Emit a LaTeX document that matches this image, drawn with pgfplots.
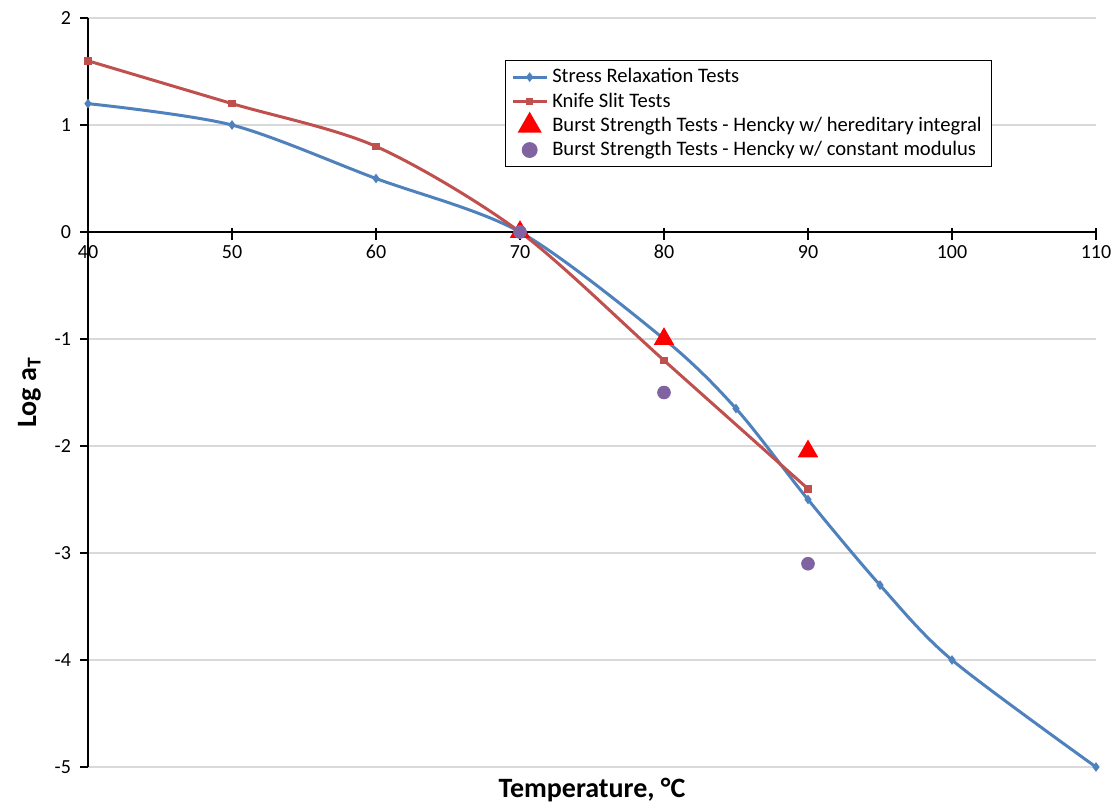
\documentclass[border=0pt]{standalone}
\usepackage{pgfplots}
\pgfplotsset{compat=1.18}
\usepackage{fontspec}
\setmainfont{Carlito}
\definecolor{sblue}{RGB}{79,129,189}
\definecolor{sred}{RGB}{192,80,77}
\definecolor{spurple}{RGB}{128,100,162}
\begin{document}
\begin{tikzpicture}
\useasboundingbox (-44pt,-19pt) rectangle (514.5pt,383.5pt);
\begin{axis}[
  scale only axis,
  width=504pt, height=374.5pt,
  xmin=40, xmax=110, ymin=-5, ymax=2,
  axis x line=middle, axis y line=left,
  axis line style={-, black, line width=0.6pt},
  hide obscured x ticks=false, hide obscured y ticks=false,
  xtick={40,50,...,110}, ytick={-5,-4,...,2},
  x tick label style={anchor=north, yshift=-1pt},
  y tick label style={anchor=east, xshift=-1pt},
  tick style={black, line width=0.6pt},
  major tick length=4pt,
  ytick align=outside,
  ymajorgrids, grid style={gray!30, line width=0.6pt},
  /pgf/number format/assume math mode=true,
  ticklabel style={font=\fontsize{10}{12}\selectfont},
  xlabel={\textbf{Temperature, °C}},
  xlabel style={at={(axis description cs:0.5,0)}, anchor=north, yshift=-2pt, font=\fontsize{14}{16}\selectfont},
  ylabel={\textbf{Log a\textsubscript{T}}},
  ylabel style={at={(axis description cs:0,0.5)}, anchor=south, yshift=20pt, rotate=0, font=\fontsize{14}{16}\selectfont},
  legend style={at={(0.897,0.944)}, anchor=north east, draw=black, line width=0.5pt,
    font=\fontsize{10.3}{12}\selectfont, row sep=-0.5pt, inner xsep=3pt, inner ysep=2pt,
    legend cell align=left},
  legend image post style={line width=1.5pt},
  clip=false,
]
\pgfplotsinvokeforeach{40,50,...,110}{\draw[black, line width=0.6pt] (axis cs:#1,0) -- ([yshift=-4pt]axis cs:#1,0);}
\addplot[sblue, line width=1.5pt, smooth, mark=diamond*, mark size=1.2pt]
  coordinates {(40,1.2) (50,1.0) (60,0.5) (70,0) (80,-1.0) (85,-1.65) (90,-2.5) (95,-3.3) (100,-4.0) (110,-5.0)};
\addlegendentry{Stress Relaxation Tests}
\addplot[sred, line width=1.5pt, smooth, mark=square*, mark size=1.1pt]
  coordinates {(40,1.6) (50,1.2) (60,0.8) (70,0) (80,-1.2) (90,-2.4)};
\addlegendentry{Knife Slit Tests}
\addplot[only marks, mark=triangle*, mark size=5.5pt, color=red, fill=red]
  coordinates {(70,0) (80,-1.0) (90,-2.05)};
\addlegendentry{Burst Strength Tests - Hencky w/ hereditary integral}
\addplot[only marks, mark=*, mark size=3.2pt, color=spurple, fill=spurple]
  coordinates {(70,0) (80,-1.5) (90,-3.1)};
\addlegendentry{Burst Strength Tests - Hencky w/ constant modulus}
\end{axis}
\end{tikzpicture}
\end{document}
